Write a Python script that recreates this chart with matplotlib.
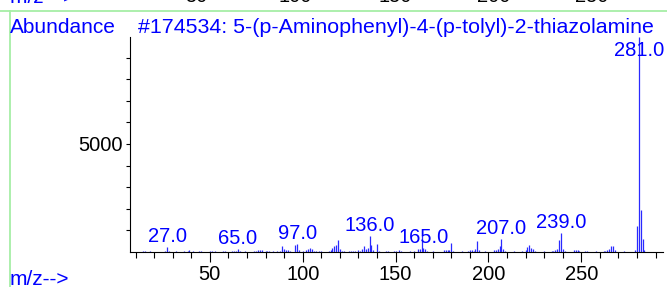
import numpy as np
import matplotlib
matplotlib.use('Agg')
import matplotlib.pyplot as plt
from matplotlib.lines import Line2D

plt.rcParams['font.family'] = ['Liberation Sans', 'DejaVu Sans']

title = '#174534: 5-(p-Aminophenyl)-4-(p-tolyl)-2-thiazolamine'

mz = [14, 15, 18, 26, 27, 28, 32, 36, 38, 39, 41, 44, 45, 50, 51, 53, 57, 58,
      62, 63, 64, 65, 66, 69, 74, 75, 76, 77, 78, 80, 81, 82, 84, 86, 88, 89,
      90, 91, 92, 93, 96, 97, 98, 100, 102, 103, 104, 105, 106, 107, 109, 110,
      114, 115, 116, 117, 118, 119, 120, 121, 122, 125, 126, 127, 128, 130,
      131, 132, 133, 134, 135, 136, 137, 138, 140, 141, 145, 146, 149, 150,
      152, 153, 158, 160, 162, 163, 164, 165, 166, 167, 170, 176, 177, 178,
      179, 180, 181, 186, 189, 190, 191, 192, 193, 194, 195, 198, 203, 204,
      205, 206, 207, 208, 209, 214, 218, 220, 221, 222, 223, 224, 225, 230,
      234, 235, 236, 237, 238, 239, 240, 241, 246, 247, 248, 249, 252, 253,
      258, 262, 263, 264, 265, 266, 267, 268, 273, 279, 280, 281, 282, 283, 284]
abund = [30, 40, 30, 50, 210, 60, 40, 30, 40, 70, 40, 40, 60, 40, 50, 30, 40, 30,
         40, 60, 50, 120, 60, 50, 40, 60, 70, 90, 70, 60, 50, 60, 40, 40, 60, 280,
         160, 100, 80, 50, 340, 370, 90, 40, 80, 150, 200, 120, 60, 50, 50, 60,
         50, 100, 190, 260, 340, 540, 120, 60, 40, 40, 50, 60, 50, 80,
         60, 150, 280, 150, 200, 740, 340, 80, 370, 60, 40, 40, 50, 60,
         90, 50, 40, 50, 120, 150, 790, 170, 150, 60, 40, 70, 100, 110,
         90, 400, 60, 40, 50, 80, 100, 60, 140, 520, 80, 40, 80, 110,
         150, 260, 590, 140, 50, 40, 40, 80, 220, 320, 200, 120, 50, 40,
         50, 60, 80, 130, 560, 880, 160, 50, 80, 90, 70, 50, 40, 50,
         40, 40, 60, 80, 130, 280, 280, 70, 40, 80, 1200, 9950, 1950, 600, 100]

label_mz = [27, 65, 97, 136, 165, 207, 239, 281]
xticks = [50, 100, 150, 200, 250]

ymax = 9950
blue = '#0000ff'

fig = plt.figure(figsize=(6.67, 2.87), dpi=100)
ax = fig.add_axes([130 / 667, 35 / 287, 533 / 667, 215 / 287])

ax.vlines(mz, 0, abund, colors='#2a2aff', lw=0.9)

lookup = dict(zip(mz, abund))
for m in label_mz:
    h = lookup[m]
    if h > 0.8 * ymax:
        ax.annotate(f'{m:.1f}', (m, ymax), xytext=(0, -14), textcoords='offset points',
                    ha='center', va='baseline', color=blue, fontsize=14.5)
    else:
        ax.annotate(f'{m:.1f}', (m, h), xytext=(0, 3.6), textcoords='offset points',
                    ha='center', va='baseline', color=blue, fontsize=14.5)

ax.set_xlim(7, 294)
ax.set_ylim(0, ymax)
ax.set_xticks(xticks)
ax.set_xticks(np.arange(10, 291, 10), minor=True)
ax.set_yticks([5000])
ax.set_yticks(np.arange(1000, 10000, 1000), minor=True)
ax.tick_params(axis='x', which='major', length=7.5, width=0.8, pad=2, labelsize=14.5)
ax.tick_params(axis='x', which='minor', length=4.3, width=0.8)
ax.tick_params(axis='y', which='both', length=3, width=0.8, pad=2, labelsize=14.5)
for s in ['top', 'right']:
    ax.spines[s].set_visible(False)
for s in ['left', 'bottom']:
    ax.spines[s].set_linewidth(0.8)

fig.text(10 / 667, 1 - 33 / 287, 'Abundance', color=blue, fontsize=15, va='baseline')
fig.text(138 / 667, 1 - 33 / 287, title, color=blue, fontsize=15.4, va='baseline')
fig.text(10 / 667, 2 / 287, 'm/z-->', color=blue, fontsize=15, va='baseline')

# leftovers of the previous panel, cut by the top edge
fig.text(10 / 667, 1 - 3 / 287, 'm/z -->', color=blue, fontsize=15, va='baseline')
for px, t in zip([196, 295, 395, 494, 592], xticks):
    fig.text(px / 667, 1 - 2 / 287, str(t), color='black', fontsize=14.5, ha='center', va='baseline')

green = '#a6eea6'
fig.add_artist(Line2D([0, 1], [1 - 11 / 287, 1 - 11 / 287], color=green, lw=1.3, transform=fig.transFigure))
fig.add_artist(Line2D([9.5 / 667, 9.5 / 667], [0, 1 - 11 / 287], color=green, lw=1.3, transform=fig.transFigure))

fig.savefig('out.png', dpi=100)
